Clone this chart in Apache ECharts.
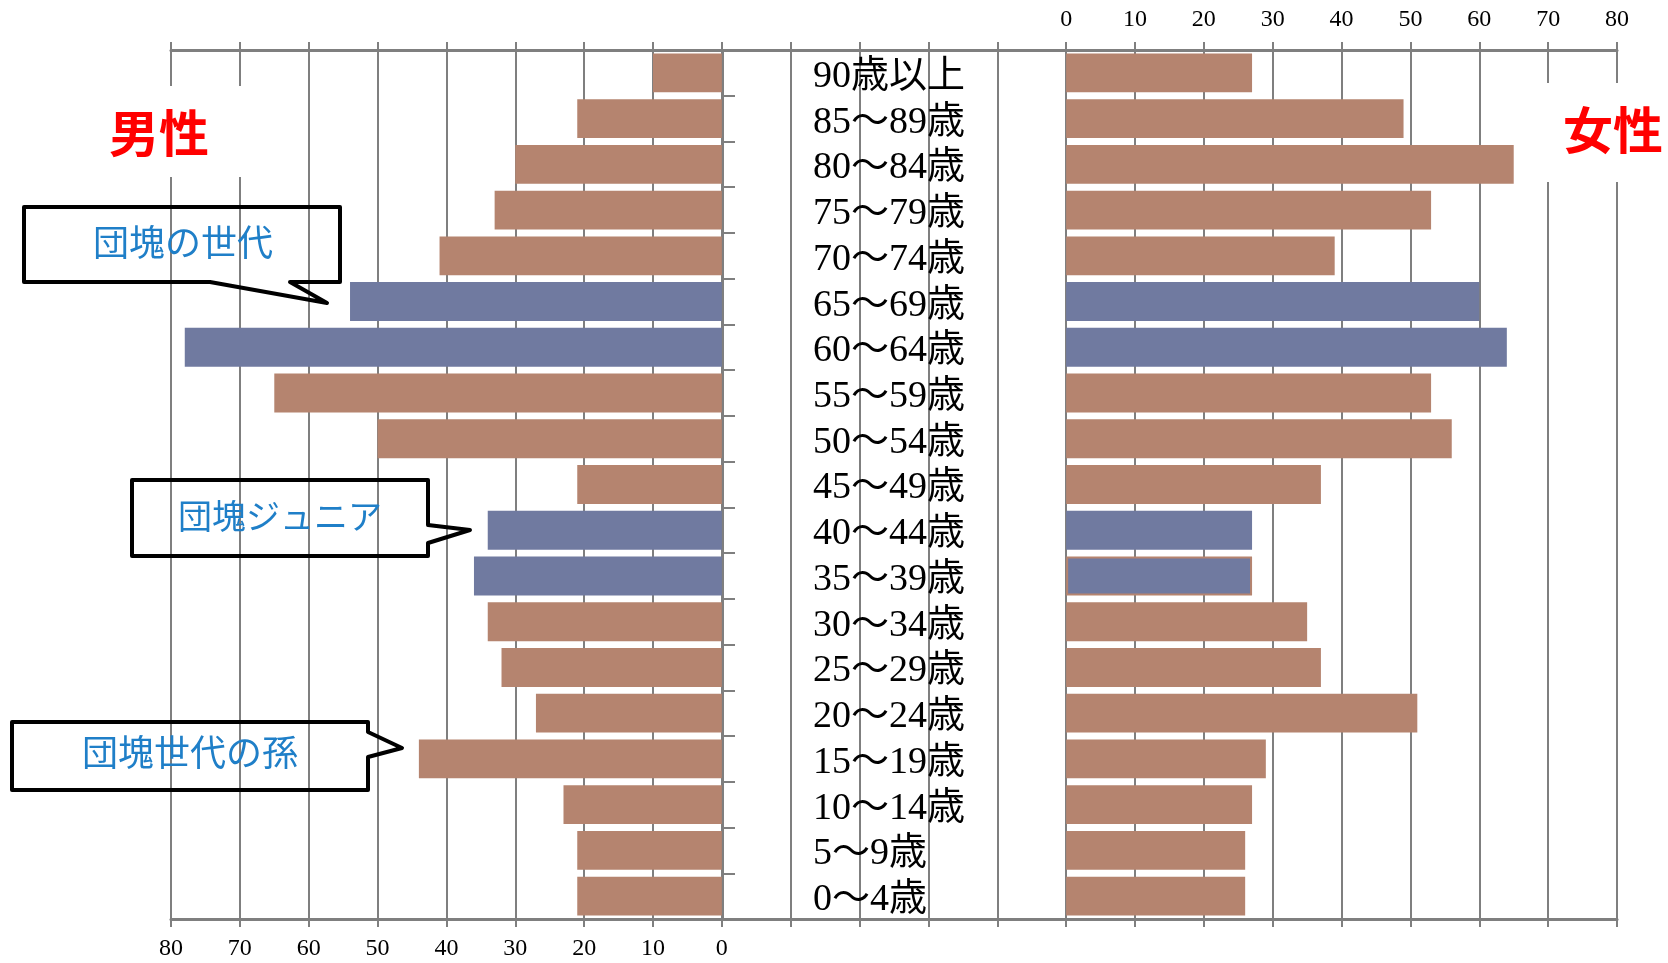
<!DOCTYPE html>
<html>
<head>
<meta charset="utf-8">
<script src="https://cdn.jsdelivr.net/npm/echarts@6/dist/echarts.min.js"></script>
<style>
html,body{margin:0;padding:0;background:#fff;}
#c{width:1668px;height:963px;}
</style>
</head>
<body>
<div id="c"></div>
<script>
const categories = ['90歳以上','85～89歳','80～84歳','75～79歳','70～74歳','65～69歳','60～64歳','55～59歳','50～54歳','45～49歳','40～44歳','35～39歳','30～34歳','25～29歳','20～24歳','15～19歳','10～14歳','5～9歳','0～4歳'];
const maleValues   = [10, 21, 30, 33, 41, 54, 78, 65, 50, 21, 34, 36, 34, 32, 27, 44, 23, 21, 21];
const femaleValues = [27, 49, 65, 53, 39, 60, 64, 53, 56, 37, 27, 27, 35, 37, 51, 29, 27, 26, 26];
const highlightCategories = ['65～69歳','60～64歳','40～44歳','35～39歳'];
const axisTicks = [0, 10, 20, 30, 40, 50, 60, 70, 80];

const BROWN = '#b5846f';
const BLUE = '#707aa0';
const GRAY = '#7f7f7f';

function items(vals, isFemale) {
  return vals.map((v, i) => {
    const hl = highlightCategories.indexOf(categories[i]) >= 0;
    const it = { value: v, itemStyle: { color: hl ? BLUE : BROWN } };
    if (isFemale && categories[i] === '35～39歳') {
      it.itemStyle.borderColor = BROWN;
      it.itemStyle.borderWidth = 2;
    }
    return it;
  });
}

const numFont = { fontFamily: 'Liberation Serif, DejaVu Serif, serif', fontSize: 24, color: '#000' };
const labelFmt = v => (axisTicks.indexOf(v) >= 0 ? String(v) : '');

const chart = echarts.init(document.getElementById('c'), null, { renderer: 'canvas' });
chart.setOption({
  animation: false,
  backgroundColor: '#fff',
  grid: { left: 171, right: 51, top: 50, bottom: 44, containLabel: false },
  xAxis: [
    {
      type: 'value', position: 'bottom', inverse: true,
      min: -130, max: 80, interval: 10,
      axisLine: { show: true, lineStyle: { color: GRAY, width: 3 } },
      axisTick: { show: true, length: 8, lineStyle: { color: GRAY, width: 2 } },
      axisLabel: Object.assign({ margin: 18, formatter: labelFmt }, numFont),
      splitLine: { show: true, lineStyle: { color: GRAY, width: 2 } }
    },
    {
      type: 'value', position: 'top',
      min: -130, max: 80, interval: 10,
      axisLine: { show: true, lineStyle: { color: GRAY, width: 3 } },
      axisTick: { show: true, length: 8, lineStyle: { color: GRAY, width: 2 } },
      axisLabel: Object.assign({ margin: 18, formatter: labelFmt }, numFont),
      splitLine: { show: false }
    }
  ],
  yAxis: [{
    type: 'category', data: categories, inverse: true,
    position: 'left', offset: -552,
    axisLine: { show: true, lineStyle: { color: GRAY, width: 2 } },
    axisTick: { show: true, inside: true, interval: 0, length: 12, lineStyle: { color: GRAY, width: 2 } },
    axisLabel: {
      inside: true, interval: 0, hideOverlap: false, margin: 90, align: 'left',
      verticalAlign: 'top', lineHeight: 8,
      fontFamily: 'Liberation Serif, DejaVu Serif, Noto Sans CJK JP, serif',
      fontSize: 38, color: '#000'
    },
    splitLine: { show: false }
  }],
  series: [
    {
      name: '男性', type: 'bar', xAxisIndex: 0, yAxisIndex: 0,
      data: items(maleValues, false),
      barCategoryGap: '15%', barGap: '-100%', z: 3
    },
    {
      name: '女性', type: 'bar', xAxisIndex: 1, yAxisIndex: 0,
      data: items(femaleValues, true),
      barCategoryGap: '15%', barGap: '-100%', z: 3
    }
  ],
  graphic: [
    { type: 'rect', shape: { x: 92, y: 86, width: 170, height: 91 }, style: { fill: '#fff' }, z: 10 },
    { type: 'text', x: 159, y: 133, z: 11, style: { text: '男性', fill: '#ff0000', font: 'bold 50px "Noto Sans CJK JP", sans-serif', textAlign: 'center', textVerticalAlign: 'middle' } },
    { type: 'rect', shape: { x: 1522, y: 83, width: 146, height: 99 }, style: { fill: '#fff' }, z: 10 },
    { type: 'text', x: 1613, y: 130, z: 11, style: { text: '女性', fill: '#ff0000', font: 'bold 50px "Noto Sans CJK JP", sans-serif', textAlign: 'center', textVerticalAlign: 'middle' } },

    { type: 'polygon', z: 10, shape: { points: [[24,207],[340,207],[340,282],[290,282],[327,303],[210,282],[24,282]] },
      style: { fill: 'none', stroke: '#000', lineWidth: 4, lineJoin: 'round' } },
    { type: 'text', x: 183, y: 247, z: 11, style: { text: '団塊の世代', fill: '#1f7fc8', font: '36px "Liberation Serif", "Noto Sans CJK JP", serif', textAlign: 'center', textVerticalAlign: 'middle' } },

    { type: 'polygon', z: 10, shape: { points: [[132,480],[428,480],[428,525],[470,530],[428,543],[428,556],[132,556]] },
      style: { fill: 'none', stroke: '#000', lineWidth: 4, lineJoin: 'round' } },
    { type: 'text', x: 280, y: 520, z: 11, style: { text: '団塊ジュニア', fill: '#1f7fc8', font: '34px "Liberation Serif", "Noto Sans CJK JP", serif', textAlign: 'center', textVerticalAlign: 'middle' } },

    { type: 'polygon', z: 10, shape: { points: [[12,722],[368,722],[368,732],[402,748],[368,757],[368,790],[12,790]] },
      style: { fill: 'none', stroke: '#000', lineWidth: 4, lineJoin: 'round' } },
    { type: 'text', x: 190, y: 757, z: 11, style: { text: '団塊世代の孫', fill: '#1f7fc8', font: '36px "Liberation Serif", "Noto Sans CJK JP", serif', textAlign: 'center', textVerticalAlign: 'middle' } }
  ]
});
</script>
</body>
</html>
